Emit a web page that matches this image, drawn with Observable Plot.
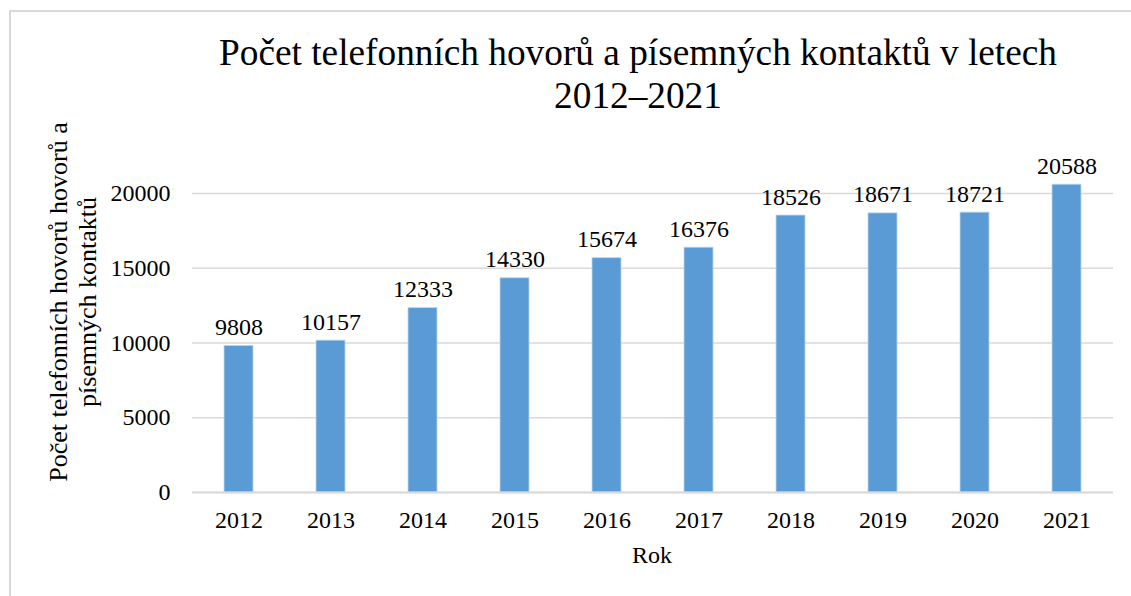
<!DOCTYPE html>
<html>
<head>
<meta charset="utf-8">
<script src="https://cdn.jsdelivr.net/npm/d3@7"></script>
<script src="https://cdn.jsdelivr.net/npm/@observablehq/plot@0.6"></script>
<style>
  html, body { margin: 0; padding: 0; background: #fff; overflow: hidden; }
  #wrap { position: relative; width: 1131px; height: 596px; font-family: "Liberation Serif", "Times New Roman", serif; color: #000; }
  #frame { position: absolute; left: 9px; top: 10px; width: 1200px; height: 700px; border: 2px solid #d9d9d9; box-sizing: border-box; }
  #title { position: absolute; left: 138px; top: 31px; width: 1000px; text-align: center; font-size: 37.3px; line-height: 43px; white-space: nowrap; }
  #title span { display: block; }
  #ylab { position: absolute; left: -136px; top: 272px; width: 420px; height: 60px; text-align: center; font-size: 26px; line-height: 29px; transform: rotate(-90deg); transform-origin: 50% 50%; white-space: nowrap; }
  #ylab span { display: block; }
  #xlab { position: absolute; left: 552px; top: 543px; width: 200px; text-align: center; font-size: 24px; line-height: 24px; }
  #chart { position: absolute; left: 0; top: 0; }
  #chart svg, #chart svg text { font-family: "Liberation Serif", "Times New Roman", serif !important; }
</style>
</head>
<body>
<div id="wrap">
  <div id="frame"></div>
  <div id="chart"></div>
  <div id="title"><span>Počet telefonních hovorů a písemných kontaktů v letech</span><span>2012–2021</span></div>
  <div id="ylab"><span>Počet telefonních hovorů hovorů a</span><span>písemných kontaktů</span></div>
  <div id="xlab">Rok</div>
</div>
<script>
const years = ["2012", "2013", "2014", "2015", "2016", "2017", "2018", "2019", "2020", "2021"];
const counts = [9808, 10157, 12333, 14330, 15674, 16376, 18526, 18671, 18721, 20588];
const yTicks = [0, 5000, 10000, 15000, 20000];

const data = years.map((y, i) => ({year: y, value: counts[i]}));
const serif = '"Liberation Serif", "Times New Roman", serif';

const chart = Plot.plot({
  width: 1131,
  height: 596,
  marginLeft: 192,
  marginRight: 18,
  marginTop: 193,
  marginBottom: 104,
  style: { fontFamily: serif, fontSize: "24px", color: "#000", background: "transparent", overflow: "visible" },
  x: { domain: years, paddingInner: 0.685, paddingOuter: 0.3425, label: null, tickSize: 0, tickPadding: 18 },
  y: { domain: [0, 20000], ticks: yTicks, label: null, tickSize: 0, tickPadding: 22, tickFormat: d => String(d) },
  marks: [
    Plot.gridY(yTicks, { stroke: "#d9d9d9", strokeOpacity: 1, strokeWidth: 1.5 }),
    Plot.barY(data, { x: "year", y: "value", fill: "#5b9bd5", stroke: "#bdd7ee", strokeWidth: 0.8 }),
    Plot.ruleY([0], { stroke: "#d9d9d9", strokeWidth: 2 }),
    Plot.text(data, { x: "year", y: "value", text: d => String(d.value), lineAnchor: "bottom", dy: -11, fontSize: 24, fontFamily: serif, fill: "#000" })
  ]
});
document.getElementById("chart").appendChild(chart);
</script>
</body>
</html>
